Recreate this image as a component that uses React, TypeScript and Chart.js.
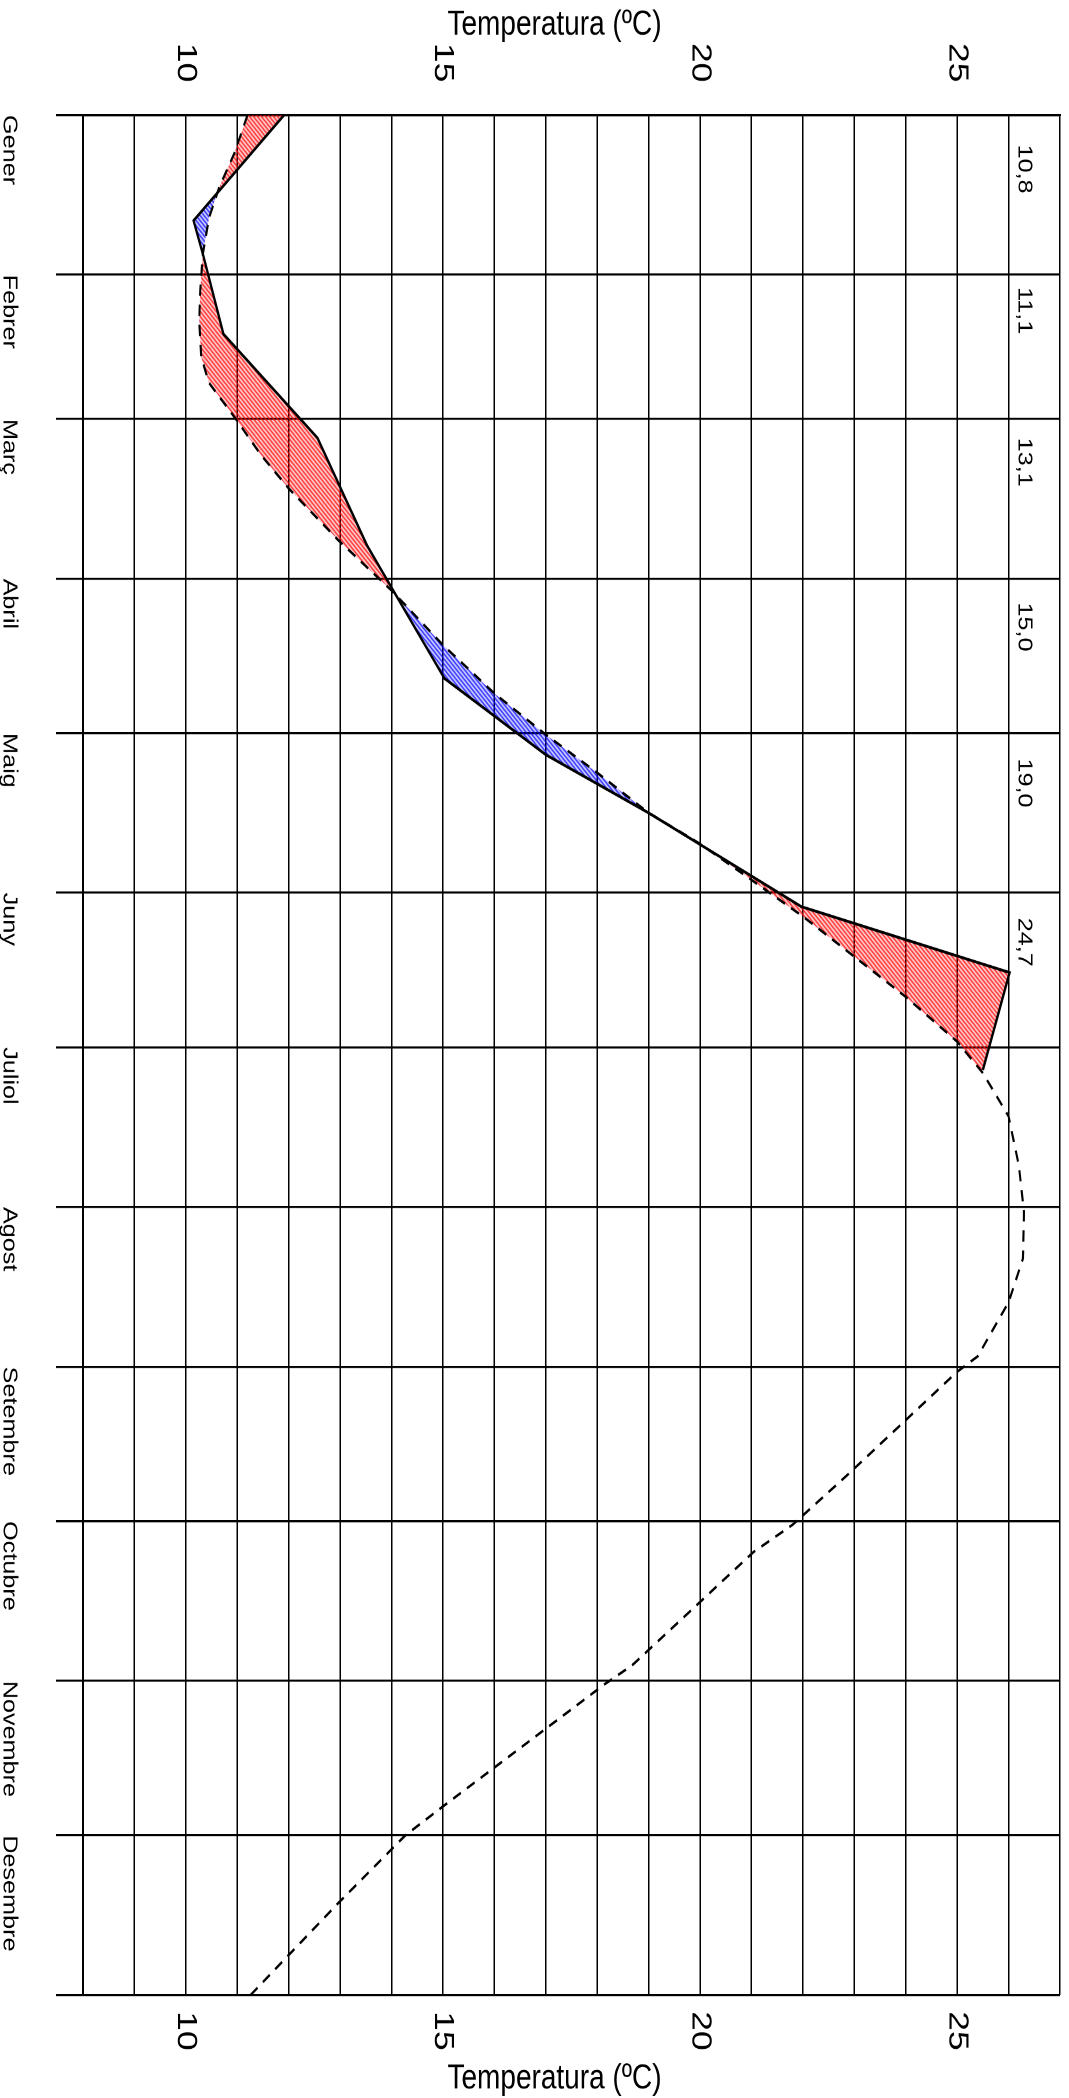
import React, { useEffect, useRef } from 'react';
import { Chart, registerables } from 'chart.js';

Chart.register(...registerables);

// ---------- data ----------
const months = ['Gener', 'Febrer', 'Març', 'Abril', 'Maig', 'Juny', 'Juliol', 'Agost', 'Setembre', 'Octubre', 'Novembre', 'Desembre'];
const monthStartDays = [0, 31, 59, 90, 120, 151, 181, 212, 243, 273, 304, 334, 365];
const tempGridValues = [8, 9, 10, 11, 12, 13, 14, 15, 16, 17, 18, 19, 20, 21, 22, 23, 24, 25, 26, 27];
const labeledTemps = [10, 15, 20, 25];

// observed temperature (solid line): day of year / ºC
const observedDays = [0, 20.5, 27.3, 42.5, 62.7, 83.5, 109.4, 124.2, 135.5, 153.7, 166.5, 185.4];
const observedTemps = [11.91, 10.15, 10.34, 10.73, 12.56, 13.52, 15.03, 17.0, 19.0, 21.97, 26.02, 25.5];

// normal temperature (dashed line): day of year / ºC
const normalDays = [0, 7.5, 14, 20, 27, 34, 40, 47, 52, 59.4, 66, 72.5, 82.6, 92.3, 102.9, 112.3, 120.3, 127.7, 135.5, 141.5, 148.5, 155.6, 163.4, 171.2, 179.9, 186, 194.4, 204, 213, 222, 230.5, 241, 244, 264, 273.7, 279, 301, 304.7, 328.4, 334, 347, 365];
const normalTemps = [11.2, 10.94, 10.65, 10.45, 10.33, 10.28, 10.26, 10.3, 10.45, 11.0, 11.46, 12.0, 12.97, 14.0, 15.0, 16.0, 17.0, 18.0, 19.0, 20.0, 21.0, 22.0, 23.0, 24.0, 25.0, 25.5, 26.0, 26.2, 26.3, 26.28, 26.0, 25.4, 25.0, 22.87, 21.8, 21.04, 18.68, 18.14, 15.0, 14.27, 12.98, 11.26];

// monthly means written in the right-hand column
const monthlyMeans = [10.8, 11.1, 13.1, 15.0, 19.0, 24.7];
const monthlyMeanDays = [10.5, 38, 67.4, 99.4, 129.7, 160.6];

const axisTitle = 'Temperatura (ºC)';

// ---------- layout ----------
const STRETCH = 1.26;
const W = 1665;
const H = 1069;
const FONT = '"Liberation Sans", Arial, Helvetica, sans-serif';

function makeHatch(color: string): CanvasPattern | string {
  const c = document.createElement('canvas');
  c.width = 4;
  c.height = 4;
  const g = c.getContext('2d');
  if (!g) return color;
  g.strokeStyle = color;
  g.lineWidth = 1.3;
  g.beginPath();
  g.moveTo(0, 4); g.lineTo(4, 0);
  g.moveTo(-1, 1); g.lineTo(1, -1);
  g.moveTo(3, 5); g.lineTo(5, 3);
  g.stroke();
  return g.createPattern(c, 'repeat') || color;
}

const overlayPlugin = {
  id: 'overlay',
  afterDraw(chart: any) {
    const { ctx, scales, chartArea } = chart;
    ctx.save();
    ctx.fillStyle = '#000';
    ctx.font = `20px ${FONT}`;
    ctx.textAlign = 'center';
    ctx.textBaseline = 'middle';
    monthlyMeans.forEach((v, i) => {
      ctx.fillText(v.toFixed(1).replace('.', ','), scales.x.getPixelForValue(monthlyMeanDays[i]), scales.y.getPixelForValue(26.3));
    });
    ctx.font = `28px ${FONT}`;
    const yc = (chartArea.top + chartArea.bottom) / 2 + 17;
    [20, 1650].forEach((x) => {
      ctx.save();
      ctx.translate(x, yc);
      ctx.rotate(-Math.PI / 2);
      ctx.fillText(axisTitle, 0, 0);
      ctx.restore();
    });
    ctx.restore();
  },
};

export default function App() {
  const canvasRef = useRef<HTMLCanvasElement | null>(null);

  useEffect(() => {
    const canvas = canvasRef.current;
    if (!canvas) return;
    const red = makeHatch('#ff0000');
    const blue = makeHatch('#0000ff');
    const tempTickCb = (v: any) => (labeledTemps.includes(Number(v)) ? String(v) : '');

    const chart = new Chart(canvas, {
      type: 'line',
      data: {
        datasets: [
          {
            label: 'Observada',
            data: observedDays.map((d, i) => ({ x: d, y: observedTemps[i] })),
            borderColor: '#000',
            borderWidth: 2.3,
            pointRadius: 0,
            tension: 0,
            fill: { target: 1, above: red, below: blue } as any,
          },
          {
            label: 'Normal',
            data: normalDays.map((d, i) => ({ x: d, y: normalTemps[i] })),
            borderColor: '#000',
            borderWidth: 2.1,
            borderDash: [9, 7],
            pointRadius: 0,
            tension: 0,
            fill: false,
          },
        ],
      },
      options: {
        animation: false,
        responsive: false,
        devicePixelRatio: 2,
        layout: { padding: { top: 9, left: 0, right: 0, bottom: 0 } },
        plugins: {
          legend: { display: false },
          tooltip: { enabled: false },
          filler: { drawTime: 'beforeDatasetsDraw' } as any,
        },
        scales: {
          x: {
            type: 'linear',
            position: 'bottom',
            min: 0,
            max: 365,
            afterBuildTicks: (s: any) => { s.ticks = monthStartDays.map((v) => ({ value: v })); },
            afterFit: (s: any) => { s.height = 83; s.paddingLeft = 0; s.paddingRight = 0; },
            ticks: {
              autoSkip: false,
              maxRotation: 0,
              minRotation: 0,
              align: 'start',
              padding: 35,
              color: '#000',
              font: { family: FONT, size: 20 },
              callback: (_v: any, i: number) => months[i] ?? '',
            },
            grid: { color: '#000', lineWidth: 1.7, tickLength: 27, drawTicks: true, tickColor: '#000', tickWidth: 1.7 },
            border: { display: true, color: '#000', width: 1.7 },
          },
          y: {
            type: 'linear',
            position: 'left',
            min: 8,
            max: 27,
            afterBuildTicks: (s: any) => { s.ticks = tempGridValues.map((v) => ({ value: v })); },
            afterFit: (s: any) => { s.width = 91.3; s.paddingTop = 0; s.paddingBottom = 0; },
            ticks: { autoSkip: false, padding: 26, color: '#000', font: { family: FONT, size: 28 }, callback: tempTickCb },
            grid: { color: '#000', lineWidth: 1.5, drawTicks: false },
            border: { display: true, color: '#000', width: 1.7 },
          },
          y2: {
            type: 'linear',
            position: 'right',
            min: 8,
            max: 27,
            afterBuildTicks: (s: any) => { s.ticks = tempGridValues.map((v) => ({ value: v })); },
            afterFit: (s: any) => { s.width = 81.7; s.paddingTop = 0; s.paddingBottom = 0; },
            ticks: { autoSkip: false, padding: 13, color: '#000', font: { family: FONT, size: 28 }, callback: tempTickCb },
            grid: { display: false, drawTicks: false },
            border: { display: false },
          },
        },
      },
      plugins: [overlayPlugin],
    });
    return () => chart.destroy();
  }, []);

  return (
    <div style={{ position: 'fixed', left: 0, top: 0, width: 1069, height: 2098, overflow: 'hidden', background: '#fff' }}>
      <div
        style={{
          position: 'absolute',
          left: 0,
          top: 0,
          width: W,
          height: H,
          transformOrigin: '0 0',
          transform: `translateX(1069px) rotate(90deg) scaleX(${STRETCH})`,
        }}
      >
        <canvas ref={canvasRef} width={W} height={H} style={{ width: W, height: H, display: 'block' }} />
      </div>
    </div>
  );
}
